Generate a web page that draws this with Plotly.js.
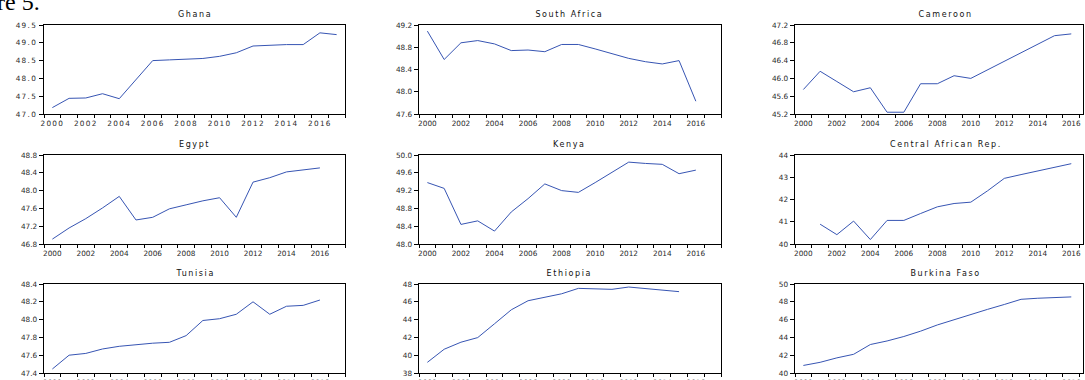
<!DOCTYPE html>
<html>
<head>
<meta charset="utf-8">
<script src="https://cdn.plot.ly/plotly-3.0.1.min.js"></script>
<style>
  html, body { margin: 0; padding: 0; background: #fff; }
  #chart { width: 1085px; height: 380px; }
  .xtick text, .ytick text { letter-spacing: 1.3px; }
  .annotation text { letter-spacing: 1.6px; }
  .annotation[data-index="9"] text { letter-spacing: 0; }
</style>
</head>
<body>
<div id="chart"></div>
<script>
// Annual observations, 2000–2017 (null = no observation)
const YEARS = [2000, 2001, 2002, 2003, 2004, 2005, 2006, 2007, 2008,
               2009, 2010, 2011, 2012, 2013, 2014, 2015, 2016, 2017];

const GHANA        = [47.18, 47.44, 47.45, 47.57, 47.43, 47.96, 48.50, 48.52, 48.55,
                      48.56, 48.62, 48.72, 48.91, 48.94, 48.95, 48.95, 49.28, 49.23];
const SOUTH_AFRICA = [49.09, 48.58, 48.88, 48.92, 48.86, 48.74, 48.75, 48.72, 48.85,
                      48.85, 48.77, 48.68, 48.60, 48.54, 48.50, 48.56, 47.83, null];
const CAMEROON     = [45.75, 46.16, 45.93, 45.70, 45.79, 45.24, 45.24, 45.88, 45.88,
                      46.06, 46.00, 46.19, 46.38, 46.57, 46.76, 46.96, 47.00, null];
const EGYPT        = [46.91, 47.16, 47.37, 47.61, 47.87, 47.34, 47.40, 47.59, 47.68,
                      47.77, 47.84, 47.40, 48.19, 48.29, 48.42, 48.47, 48.51, null];
const KENYA        = [49.38, 49.25, 48.44, 48.52, 48.29, 48.72, 49.02, 49.35, 49.20,
                      49.16, 49.38, 49.61, 49.84, 49.81, 49.79, 49.58, 49.66, null];
const CENTRAL_AFR  = [null, 40.89, 40.42, 41.03, 40.20, 41.06, 41.06, 41.37, 41.67,
                      41.82, 41.88, 42.39, 42.95, 43.12, 43.29, 43.45, 43.61, null];
const TUNISIA      = [47.445, 47.60, 47.62, 47.67, 47.70, 47.72, 47.735, 47.745, 47.82,
                      47.99, 48.01, 48.06, 48.20, 48.06, 48.15, 48.16, 48.22, null];
const ETHIOPIA     = [39.20, 40.67, 41.46, 41.98, 43.53, 45.10, 46.12, 46.50, 46.90,
                      47.51, 47.44, 47.40, 47.66, 47.47, 47.36, 47.14, null, null];
const BURKINA_FASO = [40.85, 41.20, 41.70, 42.10, 43.20, 43.60, 44.10, 44.70, 45.40,
                      46.00, 46.60, 47.15, 47.70, 48.28, 48.40, 48.45, 48.55, null];

const TITLES = ["Ghana", "South Africa", "Cameroon",
                "Egypt", "Kenya", "Central African Rep.",
                "Tunisia", "Ethiopia", "Burkina Faso"];
const SERIES = [GHANA, SOUTH_AFRICA, CAMEROON,
                EGYPT, KENYA, CENTRAL_AFR,
                TUNISIA, ETHIOPIA, BURKINA_FASO];
const Y_RANGES = [[47.0, 49.5], [47.6, 49.2], [45.2, 47.2],
                  [46.8, 48.8], [48.0, 50.0], [40, 44],
                  [47.4, 48.4], [38, 48], [40, 50]];
const Y_STEPS  = [0.5, 0.4, 0.4, 0.4, 0.4, 1, 0.2, 2, 2];
const LABEL_YEARS = [2000, 2002, 2004, 2006, 2008, 2010, 2012, 2014, 2016];

// Page geometry (pixels)
const W = 1085, H = 380;
const COLS = [[44, 345], [419, 721], [795, 1083]];
const COL_XMAX = [2018, 2018, 2017.2];
const ROWS = [[25, 114], [155, 244], [284, 373]];

const LINE_COLOR = "#3755b3";
const TICK_FONT = { family: "DejaVu Sans", size: 7.3, color: "#2a2a2a" };

const data = [];
const layout = {
  width: W, height: H,
  margin: { l: 0, r: 0, t: 0, b: 0 },
  paper_bgcolor: "#fff", plot_bgcolor: "#fff",
  showlegend: false,
  annotations: []
};

SERIES.forEach((vals, i) => {
  const r = Math.floor(i / 3), c = i % 3, k = i + 1;
  const [x0, x1] = COLS[c], [top, bot] = ROWS[r];

  // each year is plotted at the middle of its slot
  data.push({
    x: YEARS.map(y => y + 0.5), y: vals,
    type: "scatter", mode: "lines",
    line: { color: LINE_COLOR, width: 1 },
    connectgaps: false,
    xaxis: "x" + k, yaxis: "y" + k,
    hoverinfo: "skip"
  });

  const yearTicks = [];
  for (let y = 2000; y <= Math.floor(COL_XMAX[c]); y++) yearTicks.push(y);

  layout["xaxis" + k] = {
    domain: [x0 / W, x1 / W], anchor: "y" + k,
    range: [2000, COL_XMAX[c]],
    tickmode: "array",
    tickvals: LABEL_YEARS.map(y => y + 0.5),
    ticktext: LABEL_YEARS.map(String),
    ticks: "",
    ticklabelstandoff: 2,
    minor: { tickmode: "array", tickvals: yearTicks, ticks: "outside",
             ticklen: 3, tickwidth: 1, tickcolor: "#000", showgrid: false },
    tickfont: TICK_FONT,
    showgrid: false, zeroline: false,
    showline: true, mirror: true, linecolor: "#000", linewidth: 1,
    fixedrange: true
  };

  const [lo, hi] = Y_RANGES[i], step = Y_STEPS[i];
  layout["yaxis" + k] = {
    domain: [1 - bot / H, 1 - top / H], anchor: "x" + k,
    range: [lo, hi],
    tickmode: "linear", tick0: lo, dtick: step,
    tickformat: step < 1 ? ".1f" : "d",
    ticks: "outside", ticklen: 4, tickwidth: 1, tickcolor: "#000",
    tickfont: TICK_FONT,
    showgrid: false, zeroline: false,
    showline: true, mirror: true, linecolor: "#000", linewidth: 1.4,
    fixedrange: true
  };

  const centre = (x0 + x0 + (COL_XMAX[c] === 2018 ? x1 - x0 : 301)) / 2;
  layout.annotations.push({
    text: TITLES[i], xref: "paper", yref: "paper",
    x: centre / W, y: 1 - (top - 10.5) / H,
    xanchor: "center", yanchor: "middle", showarrow: false,
    font: { family: "DejaVu Sans", size: 8, color: "#111" }
  });
});

// caption fragment along the top edge
layout.annotations.push({
  text: "re 5.", xref: "paper", yref: "paper",
  x: -4 / W, y: 1 - 16 / H, xanchor: "left", yanchor: "bottom",
  showarrow: false, borderpad: 0,
  font: { family: "Liberation Serif", size: 24, color: "#000" }
});

Plotly.newPlot("chart", data, layout, { staticPlot: true, displayModeBar: false });
</script>
</body>
</html>
